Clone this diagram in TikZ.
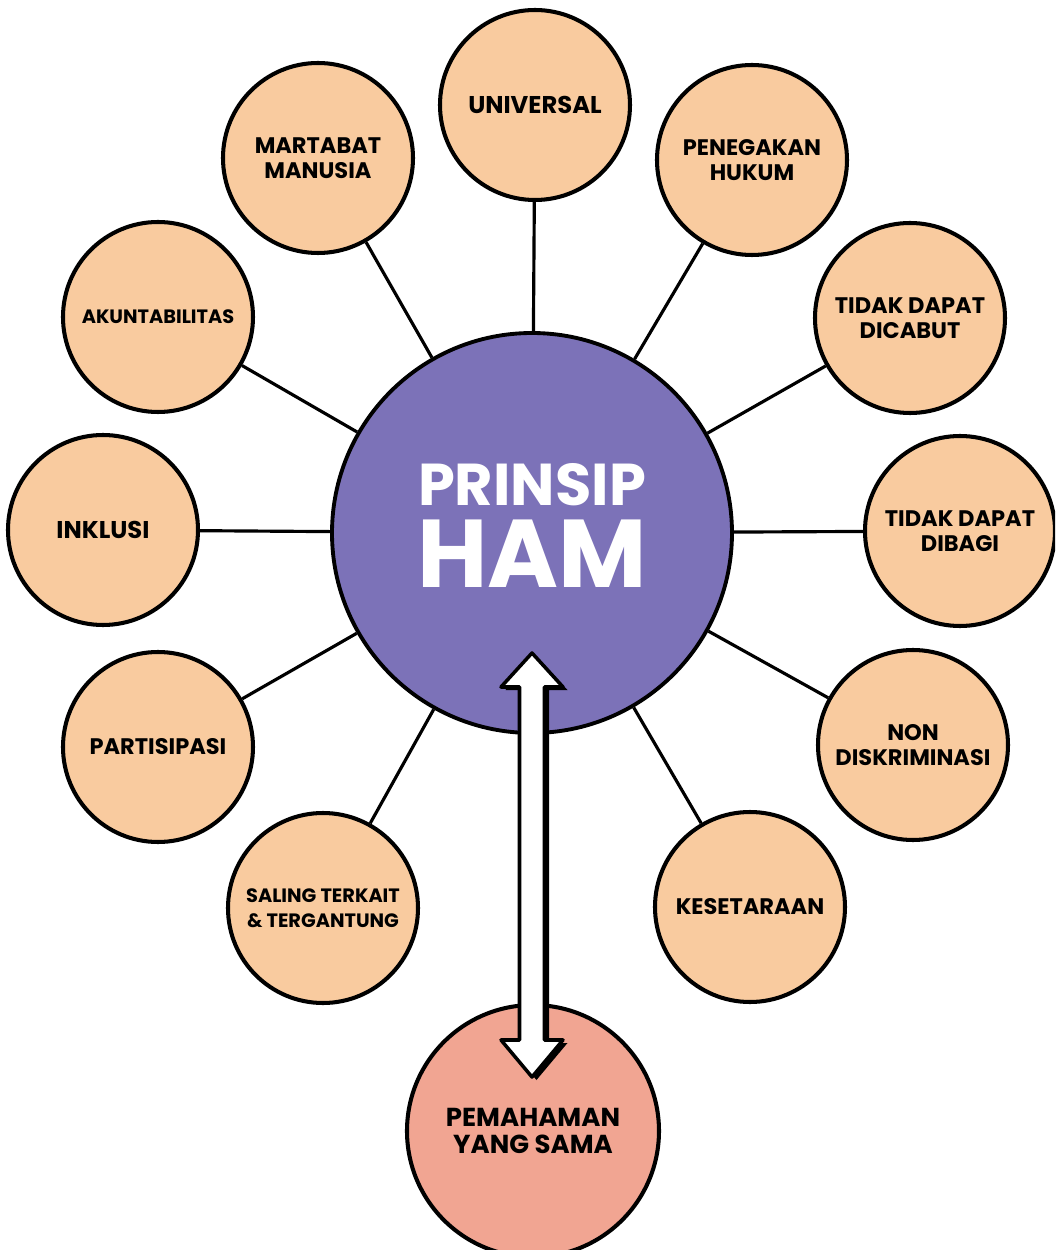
\documentclass[tikz,border=0pt]{standalone}
\usepackage{fontspec}
\setmainfont{Poppins}
\usetikzlibrary{positioning,shadows}

\definecolor{peach}{HTML}{F9CB9F}
\definecolor{ungu}{HTML}{7C72B8}
\definecolor{salem}{HTML}{F1A592}

\begin{document}
\begin{tikzpicture}[
  font=\bfseries,
  prinsip/.style={circle, draw, line width=1.15pt, fill=peach, minimum size=1.9cm, inner sep=0pt, align=center, font=\bfseries\fontsize{6.4}{7.2}\selectfont},
  kecil/.style={font=\bfseries\fontsize{5.5}{7.1}\selectfont},
  besar/.style={font=\bfseries\fontsize{6.9}{7.5}\selectfont},
  pusat/.style={circle, draw, line width=1.1pt, fill=ungu, minimum size=4cm, inner sep=0pt, text=white, align=center},
  tujuan/.style={prinsip, fill=salem, minimum size=2.52cm, font=\bfseries\fontsize{7.4}{7.8}\selectfont},
  jari/.style={line width=0.9pt},
  panah/.style={draw, fill=white, line width=1pt, line join=round, drop shadow={shadow xshift=0.045cm, shadow yshift=-0.03cm, fill=black, opacity=1}}
]
\clip (-5.32,-7.17) rectangle (5.23,5.33);

% nodes
\node[pusat] (ham) {\fontsize{16.8}{17}\selectfont PRINSIP\\[2.8pt]\fontsize{27.4}{22}\selectfont HAM\rule[-0.15cm]{0pt}{0pt}};

\node[prinsip, besar] (universal) at (0.03,4.28) {UNIVERSAL};
\node[prinsip] (martabat) at (-2.14,3.75) {MARTABAT\\MANUSIA};
\node[prinsip] (penegakan) at (2.20,3.73) {PENEGAKAN\\HUKUM};
\node[prinsip, kecil] (akuntabilitas) at (-3.74,2.16) {AKUNTABILITAS};
\node[prinsip] (dicabut) at (3.78,2.15) {TIDAK DAPAT\\DICABUT};
\node[prinsip, besar] (inklusi) at (-4.29,0.03) {INKLUSI};
\node[prinsip] (dibagi) at (4.28,0.02) {TIDAK DAPAT\\DIBAGI};
\node[prinsip] (partisipasi) at (-3.74,-2.14) {PARTISIPASI};
\node[prinsip] (diskriminasi) at (3.81,-2.12) {NON\\DISKRIMINASI};
\node[prinsip, kecil] (terkait) at (-2.09,-3.75) {SALING TERKAIT\\\& TERGANTUNG};
\node[prinsip] (kesetaraan) at (2.18,-3.74) {KESETARAAN};

\node[tujuan] (sama) at (0.01,-5.98) {PEMAHAMAN\\YANG SAMA};

% spokes
\draw[jari] (ham) -- (universal);
\draw[jari] (ham) -- (martabat);
\draw[jari] (ham) -- (penegakan);
\draw[jari] (ham) -- (akuntabilitas);
\draw[jari] (ham) -- (dicabut);
\draw[jari] (ham) -- (inklusi);
\draw[jari] (ham) -- (dibagi);
\draw[jari] (ham) -- (partisipasi);
\draw[jari] (ham) -- (diskriminasi);
\draw[jari] (ham) -- (terkait);
\draw[jari] (ham) -- (kesetaraan);

% two-way arrow between HAM and the shared understanding
\coordinate (atas) at (0,-1.20);
\coordinate (bawah) at (0,-5.44);
\path[panah] (atas) -- ++(-0.31,-0.34) -- ++(0.185,0) -- ++(0,-3.53) -- ++(-0.185,0)
  -- (bawah) -- ++(0.31,0.37) -- ++(-0.185,0) -- ++(0,3.53) -- ++(0.185,0) -- cycle;

\end{tikzpicture}
\end{document}
